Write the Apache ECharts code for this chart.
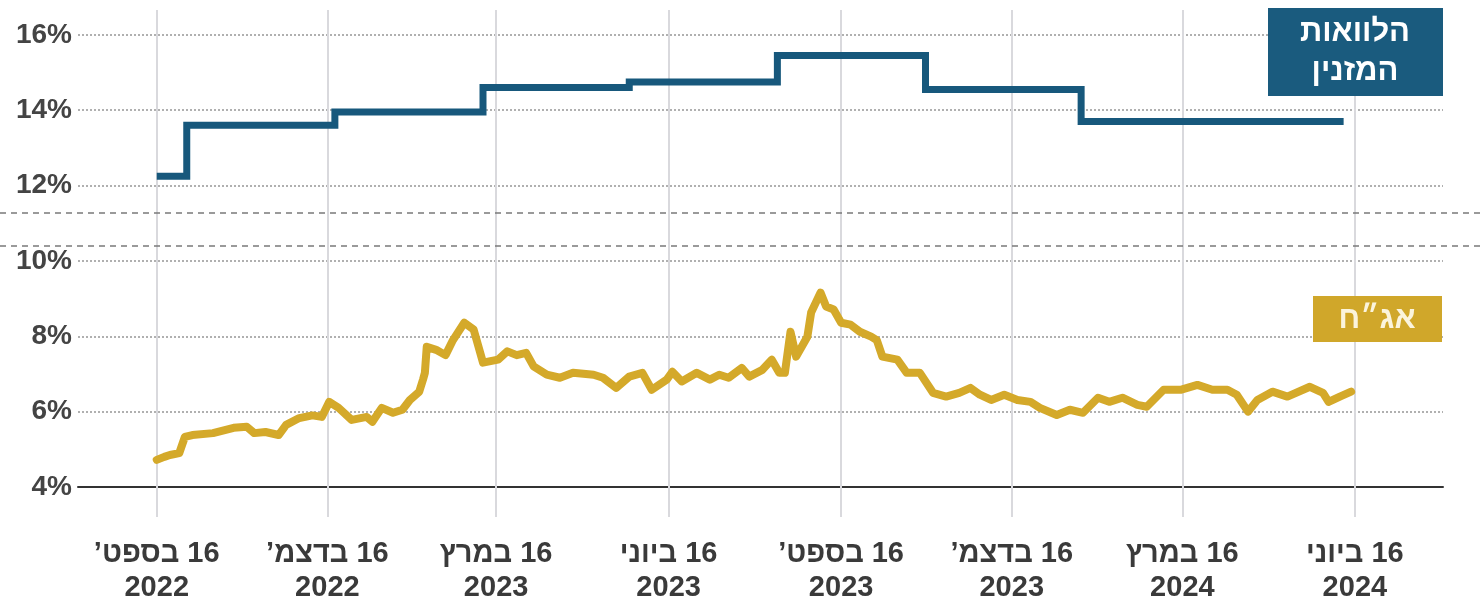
<!DOCTYPE html>
<html>
<head>
<meta charset="utf-8">
<script src="https://cdn.jsdelivr.net/npm/echarts@6/dist/echarts.min.js"></script>
<style>
    html, body { margin: 0; padding: 0; background: #fff; }
    #chart { width: 1483px; height: 602px; }
</style>
</head>
<body>
<div id="chart"></div>
<script>
// x axis ticks (quarterly, the 16th of the month)
const tickDates = ["2022-09-16", "2022-12-16", "2023-03-16", "2023-06-16", "2023-09-16", "2023-12-16", "2024-03-16", "2024-06-16"];
const tickMonths = ["בספט’", "בדצמ’", "במרץ", "ביוני", "בספט’", "בדצמ’", "במרץ", "ביוני"];
const tickYears = ["2022", "2022", "2023", "2023", "2023", "2023", "2024", "2024"];

// mezzanine loans rate - step changes (date the new rate starts)
const mezzDates = ["2022-09-16", "2022-10-02", "2022-12-20", "2023-03-09", "2023-05-26", "2023-08-13", "2023-10-31", "2024-01-22", "2024-06-10"];
const mezzRate = [12.25, 13.6, 13.95, 14.6, 14.75, 15.45, 14.55, 13.7, 13.7];

// bond yield
const bondDates = [
    "2022-09-16", "2022-09-20", "2022-09-23", "2022-09-28", "2022-10-01", "2022-10-05", "2022-10-16", "2022-10-27",
    "2022-11-03", "2022-11-07", "2022-11-13", "2022-11-20", "2022-11-24", "2022-12-01", "2022-12-08", "2022-12-13",
    "2022-12-17", "2022-12-22", "2022-12-29", "2023-01-06", "2023-01-09", "2023-01-14", "2023-01-20", "2023-01-25",
    "2023-01-29", "2023-02-03", "2023-02-05", "2023-02-06", "2023-02-07", "2023-02-12", "2023-02-17", "2023-02-21",
    "2023-02-27", "2023-03-04", "2023-03-09", "2023-03-17", "2023-03-22", "2023-03-27", "2023-04-01", "2023-04-05",
    "2023-04-12", "2023-04-19", "2023-04-26", "2023-05-07", "2023-05-12", "2023-05-19", "2023-05-26", "2023-06-02",
    "2023-06-07", "2023-06-15", "2023-06-18", "2023-06-23", "2023-07-01", "2023-07-08", "2023-07-13", "2023-07-18",
    "2023-07-25", "2023-07-29", "2023-08-05", "2023-08-10", "2023-08-14", "2023-08-17", "2023-08-20", "2023-08-23",
    "2023-08-29", "2023-08-31", "2023-09-05", "2023-09-08", "2023-09-12", "2023-09-16", "2023-09-21", "2023-09-26",
    "2023-10-02", "2023-10-05", "2023-10-08", "2023-10-16", "2023-10-21", "2023-10-28", "2023-11-04", "2023-11-11",
    "2023-11-18", "2023-11-24", "2023-11-29", "2023-12-05", "2023-12-12", "2023-12-19", "2023-12-26", "2023-12-31",
    "2024-01-09", "2024-01-16", "2024-01-23", "2024-01-31", "2024-02-06", "2024-02-13", "2024-02-21", "2024-02-26",
    "2024-03-06", "2024-03-15", "2024-03-24", "2024-04-01", "2024-04-09", "2024-04-14", "2024-04-20", "2024-04-25",
    "2024-05-03", "2024-05-11", "2024-05-23", "2024-05-30", "2024-06-02", "2024-06-08", "2024-06-14"
];
const bondYield = [
    4.72, 4.8, 4.85, 4.9, 5.33, 5.38, 5.43, 5.57,
    5.6, 5.43, 5.46, 5.38, 5.65, 5.83, 5.9, 5.86,
    6.26, 6.1, 5.78, 5.86, 5.73, 6.1, 5.97, 6.05,
    6.31, 6.53, 6.85, 7.03, 7.72, 7.64, 7.5, 7.9,
    8.36, 8.18, 7.3, 7.38, 7.6, 7.5, 7.56, 7.2,
    6.98, 6.9, 7.03, 6.98, 6.9, 6.63, 6.93, 7.03,
    6.58, 6.85, 7.06, 6.8, 7.03, 6.85, 6.98, 6.9,
    7.16, 6.93, 7.11, 7.38, 7.03, 7.03, 8.12, 7.46,
    7.99, 8.63, 9.16, 8.79, 8.71, 8.36, 8.31, 8.12,
    7.99, 7.9, 7.46, 7.38, 7.03, 7.03, 6.5, 6.4,
    6.5, 6.63, 6.45, 6.31, 6.45, 6.31, 6.26, 6.1,
    5.91, 6.05, 5.97, 6.37, 6.26, 6.37, 6.18, 6.13,
    6.58, 6.58, 6.71, 6.58, 6.58, 6.45, 6.0, 6.31,
    6.53, 6.4, 6.66, 6.5, 6.26, 6.4, 6.53
];

const FONT = '"Liberation Sans", "DejaVu Sans", sans-serif';
const BLUE = "#17587c";
const GOLD = "#d4a92a";
const GRID_V = "#d9d9dd";

function ts(d) {
    return +echarts.time.parse(d);
}

const tickTs = tickDates.map(ts);
const xMin = ts("2022-08-05");
const xMax = ts("2024-08-02");

function tickLabel(value) {
    const i = tickTs.indexOf(value);
    if (i < 0) return "";
    // right-to-left embedding so the day number sits on the right
    return "\u202B16 " + tickMonths[i] + "\u202C\n" + tickYears[i];
}

const chart = echarts.init(document.getElementById("chart"));

chart.setOption({
    animation: false,
    grid: { left: 78, right: 40, top: 10, bottom: 115, outerBoundsMode: "none", containLabel: false },
    xAxis: [
        {
            type: "value",
            min: xMin,
            max: xMax,
            axisLine: { lineStyle: { color: "#333", width: 2 } },
            axisTick: {
                show: true,
                customValues: tickTs,
                length: 30,
                lineStyle: { color: GRID_V, width: 2 }
            },
            axisLabel: {
                customValues: tickTs,
                formatter: tickLabel,
                margin: 50,
                fontFamily: FONT,
                fontSize: 29,
                fontWeight: "bold",
                lineHeight: 34,
                color: "#3a3a3a"
            },
            splitLine: { show: false }
        },
        {
            // vertical grid lines drawn as long inside ticks
            type: "value",
            min: xMin,
            max: xMax,
            position: "bottom",
            axisLine: { show: false },
            axisTick: {
                show: true,
                inside: true,
                customValues: tickTs,
                length: 477,
                lineStyle: { color: GRID_V, width: 2 }
            },
            axisLabel: { show: false },
            splitLine: { show: false }
        }
    ],
    yAxis: {
        type: "value",
        min: 4,
        max: 16.66,
        interval: 2,
        axisLine: { show: false },
        axisTick: { show: false },
        axisLabel: {
            margin: 6,
            fontFamily: FONT,
            fontSize: 28,
            fontWeight: "bold",
            color: "#444",
            formatter: function (v) {
                return Math.abs(v % 2) < 1e-6 && v <= 16 ? v + "%" : "";
            }
        },
        splitLine: {
            lineStyle: {
                color: ["transparent", "#b0b0b0", "#b0b0b0", "#b0b0b0", "#b0b0b0", "#b0b0b0", "#b0b0b0", "transparent"],
                type: [2, 2],
                width: 2
            }
        }
    },
    series: [
        {
            name: "הלוואות המזנין",
            type: "line",
            step: "end",
            xAxisIndex: 0,
            data: mezzDates.map((d, i) => [ts(d), mezzRate[i]]),
            showSymbol: false,
            lineStyle: { color: BLUE, width: 7, join: "miter" },
            z: 3
        },
        {
            name: "אג״ח",
            type: "line",
            xAxisIndex: 0,
            data: bondDates.map((d, i) => [ts(d), bondYield[i]]),
            showSymbol: false,
            lineStyle: { color: GOLD, width: 8, join: "round", cap: "round" },
            z: 3
        }
    ],
    graphic: [
        // axis break marks
        {
            type: "line",
            shape: { x1: 0, y1: 213, x2: 1483, y2: 213 },
            style: { stroke: "#7a7a7a", lineWidth: 1.5, lineDash: [6, 5] },
            z: 10
        },
        {
            type: "line",
            shape: { x1: 0, y1: 246, x2: 1483, y2: 246 },
            style: { stroke: "#7a7a7a", lineWidth: 1.5, lineDash: [6, 5] },
            z: 10
        },
        // legend boxes
        {
            type: "rect",
            shape: { x: 1268, y: 8, width: 175, height: 88 },
            style: { fill: "#1a5b7e" },
            z: 10
        },
        {
            type: "text",
            x: 1355,
            y: 52,
            style: {
                text: "הלוואות\nהמזנין",
                fill: "#fff",
                font: "bold 31px " + FONT,
                lineHeight: 39,
                align: "center",
                verticalAlign: "middle"
            },
            z: 11
        },
        {
            type: "rect",
            shape: { x: 1313, y: 296, width: 129, height: 46 },
            style: { fill: "#d0a72a" },
            z: 10
        },
        {
            type: "text",
            x: 1377,
            y: 319,
            style: {
                text: "אג״ח",
                fill: "#fbf4dc",
                font: "bold 31px " + FONT,
                align: "center",
                verticalAlign: "middle"
            },
            z: 11
        }
    ]
});
</script>
</body>
</html>
